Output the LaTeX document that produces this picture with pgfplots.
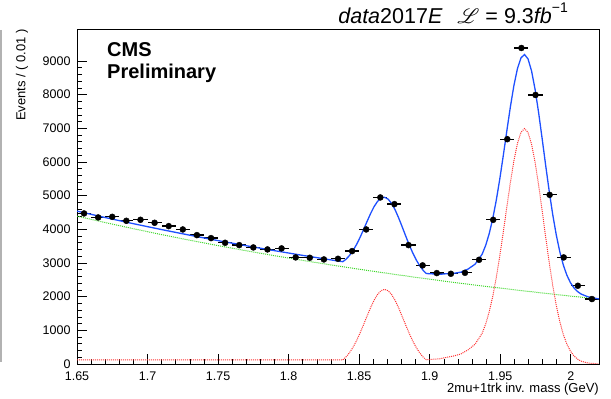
\documentclass[border=0pt]{standalone}
\usepackage{pgfplots}
\pgfplotsset{compat=1.18}
\usepackage{pgfplotstable}
\usepackage{fontspec}
\usepackage{mathrsfs}
\setmainfont{Liberation Sans}
\definecolor{rootblue}{RGB}{30,80,255}
\definecolor{rootgreen}{RGB}{60,215,40}
\definecolor{rootred}{RGB}{255,50,50}

\pgfplotstableread{
x y ey
1.655 4472 67
1.665 4353 66
1.675 4371 66
1.685 4253 65
1.695 4283 65
1.705 4194 65
1.715 4095 64
1.725 3996 63
1.735 3828 62
1.745 3739 61
1.755 3600 60
1.765 3531 59
1.775 3462 59
1.785 3403 58
1.795 3433 59
1.805 3166 56
1.815 3155 56
1.825 3106 56
1.835 3125 56
1.845 3353 58
1.855 3996 63
1.865 4947 70
1.875 4748 69
1.885 3531 59
1.895 2929 54
1.905 2700 52
1.915 2680 52
1.925 2709 52
1.935 3095 56
1.945 4282 65
1.955 6677 82
1.965 9386 97
1.975 7990 89
1.985 5024 71
1.995 3166 56
2.005 2324 48
2.015 1929 44
}\datatable

\pgfplotstableread{
x y
1.65 4392
1.67 4201
1.69 4018
1.71 3843
1.73 3676
1.75 3516
1.77 3363
1.79 3217
1.81 3077
1.83 2943
1.85 2815
1.87 2693
1.89 2575
1.91 2463
1.93 2356
1.95 2254
1.97 2156
1.99 2062
2.01 1972
2.02 1929
}\bkgtable

\pgfplotstableread{
x y
1.65 119
1.8384 119
1.8405 200
1.843 326
1.8455 486
1.848 680
1.8505 906
1.853 1155
1.8555 1413
1.858 1664
1.8605 1888
1.863 2064
1.8655 2178
1.868 2217
1.8705 2178
1.873 2064
1.8755 1888
1.878 1664
1.8805 1413
1.883 1155
1.8855 906
1.888 680
1.8905 486
1.893 326
1.8955 200
1.8976 125
1.9022 140
1.9072 155
1.9122 200
1.9172 240
1.9222 300
1.9272 420
1.9322 590
1.9372 914
1.9397 1189
1.9422 1552
1.9447 2010
1.9472 2568
1.9497 3216
1.9522 3929
1.9547 4672
1.9572 5394
1.9597 6039
1.9622 6551
1.9647 6881
1.9672 6994
1.9697 6874
1.9722 6529
1.9747 5993
1.9772 5316
1.9797 4555
1.9822 3772
1.9847 3019
1.9872 2334
1.9897 1744
1.9922 1259
1.9947 878
1.9972 592
1.9997 385
2.0022 243
2.0047 148
2.0072 87
2.0122 27
2.02 3
}\sigtable

\pgfplotstableread{
x y
1.65 4541
1.67 4350
1.69 4167
1.71 3992
1.73 3825
1.75 3665
1.77 3512
1.79 3366
1.81 3226
1.83 3092
1.8384 3038
1.8405 3105
1.843 3215
1.8455 3359
1.848 3538
1.8505 3748
1.853 3981
1.8555 4224
1.858 4459
1.8605 4668
1.863 4829
1.8655 4928
1.868 4952
1.8705 4898
1.873 4769
1.8755 4578
1.878 4339
1.8805 4073
1.883 3801
1.8855 3537
1.888 3297
1.8905 3088
1.893 2914
1.8955 2774
1.8976 2687
1.9022 2677
1.9072 2664
1.9122 2682
1.9172 2694
1.9222 2728
1.9272 2821
1.9322 2965
1.9372 3263
1.9397 3525
1.9422 3875
1.9447 4320
1.9472 4866
1.9497 5501
1.9522 6202
1.9547 6932
1.9572 7642
1.9597 8275
1.9622 8774
1.9647 9092
1.9672 9193
1.9697 9061
1.9722 8704
1.9747 8156
1.9772 7467
1.9797 6695
1.9822 5900
1.9847 5136
1.9872 4439
1.9897 3837
1.9922 3336
1.9947 2941
1.9972 2641
1.9997 2420
2.0022 2264
2.0047 2155
2.0072 2080
2.0122 1995
2.02 1932
}\totaltable

\begin{document}
\begin{tikzpicture}[x=1pt,y=1pt]
\path[use as bounding box] (0,0) rectangle (611,399);
\draw[gray!60, line width=1.5pt] (1,369) -- (1,37);
\begin{axis}[
  at={(77pt,35pt)}, anchor=south west,
  scale only axis, width=522pt, height=335pt,
  xmin=1.65, xmax=2.02, ymin=0, ymax=9950,
  axis line style={line width=0.8pt, black},
  tick pos=left, tick align=inside,
  major tick length=10pt, minor tick length=5pt,
  every tick/.style={black, line width=0.6pt},
  xtick={1.65,1.7,1.75,1.8,1.85,1.9,1.95,2.0},
  xticklabels={1.65,1.7,1.75,1.8,1.85,1.9,1.95,2},
  ytick={0,1000,2000,3000,4000,5000,6000,7000,8000,9000},
  yticklabels={0,1000,2000,3000,4000,5000,6000,7000,8000,9000},
  minor x tick num=4, minor y tick num=4,
  scaled ticks=false,
  ticklabel style={font=\fontsize{12.5}{14}\selectfont},
  xticklabel style={yshift=-4pt},
  yticklabel style={xshift=-3pt},
  xlabel={2mu+1trk inv. mass (GeV)},
  ylabel={Events / ( 0.01 )},
  every axis x label/.style={at={(rel axis cs:1,0)}, anchor=north east, yshift=-19pt, inner sep=0pt, font=\fontsize{13}{15}\selectfont},
  every axis y label/.style={at={(rel axis cs:0,1)}, xshift=-55pt, rotate=90, anchor=east, inner sep=0pt, font=\fontsize{13}{15}\selectfont},
  clip=true,
]
\addplot[rootgreen, line width=1pt, dash pattern=on 1pt off 1pt] table[x=x,y=y] {\bkgtable};
\addplot[rootred, line width=1pt, dash pattern=on 1pt off 1pt] table[x=x,y=y] {\sigtable};
\addplot[only marks, mark=*, mark size=3pt, black,
  error bars/.cd, x dir=both, x fixed=0.005, y dir=both, y explicit,
  error bar style={line width=1.3pt, black}, error mark=none]
  table[x=x, y=y, y error=ey] {\datatable};
\addplot[rootblue, line width=1.3pt] table[x=x,y=y] {\totaltable};
\end{axis}
\node[anchor=base west, inner sep=0pt, font=\fontsize{20}{22}\selectfont\bfseries] at (107,342) {CMS};
\node[anchor=base west, inner sep=0pt, font=\fontsize{20}{22}\selectfont\bfseries] at (107,320) {Preliminary};
\node[anchor=base east, inner sep=0pt, font=\fontsize{21.5}{24}\selectfont] at (568,375)
  {{\itshape data}2017{\itshape E}\hspace{0.7em}$\mathscr{L}$ = 9.3{\itshape fb}\raisebox{0.55em}{\fontsize{14}{16}\selectfont −1}};
\end{tikzpicture}
\end{document}
